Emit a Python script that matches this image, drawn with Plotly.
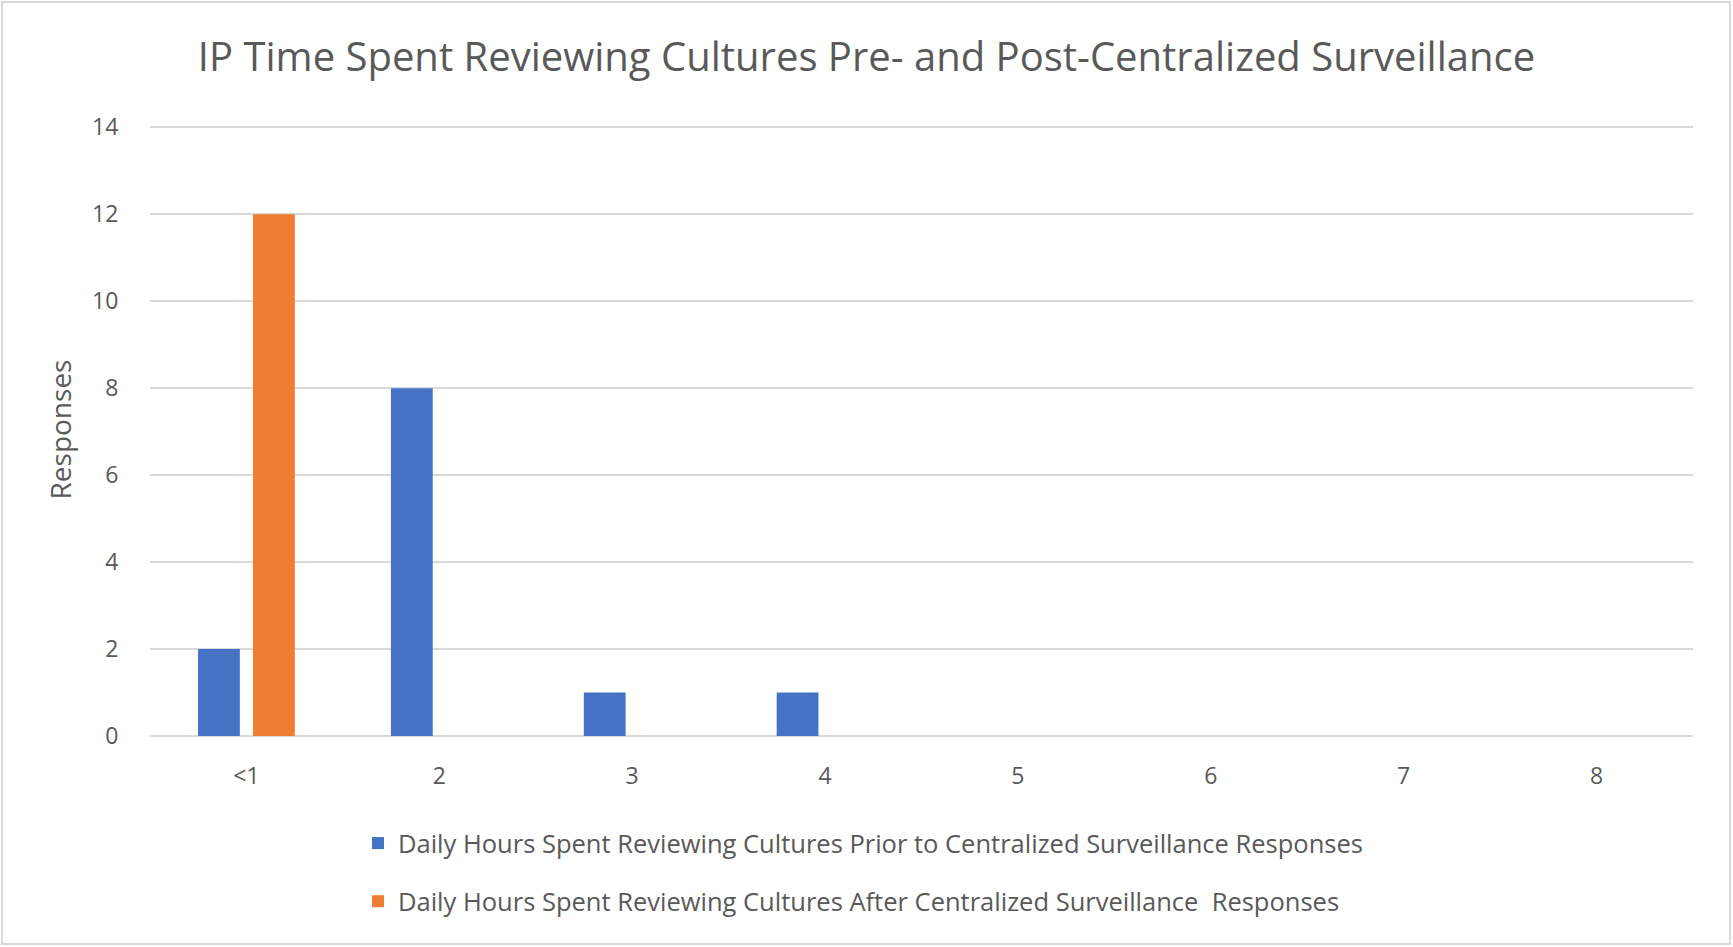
import plotly.graph_objects as go

# Survey data: daily hours spent reviewing cultures, before and after centralized surveillance
hours = ["<1", "2", "3", "4", "5", "6", "7", "8"]
prior_responses = [2, 8, 1, 1, 0, 0, 0, 0]
after_responses = [12, 0, 0, 0, 0, 0, 0, 0]

prior_name = "Daily Hours Spent Reviewing Cultures Prior to Centralized Surveillance Responses"
after_name = "Daily Hours Spent Reviewing Cultures After Centralized Surveillance  Responses"
chart_title = "IP Time Spent Reviewing Cultures Pre- and Post-Centralized Surveillance"

W, H = 1733, 947
L, R, T, B = 150, 40, 123, 211
TEXT = "#595959"
GRID = "#d9d9d9"
FONT = "Open Sans"

fig = go.Figure()
fig.add_trace(go.Bar(x=hours, y=prior_responses, name=prior_name,
                     marker=dict(color="#4472C4", line=dict(width=0)),
                     legendgroup="prior"))
fig.add_trace(go.Bar(x=hours, y=after_responses, name=after_name,
                     marker=dict(color="#ED7D31", line=dict(width=0)),
                     legendgroup="after"))

pw = W - L - R
ph = H - T - B

fig.update_layout(
    width=W, height=H,
    margin=dict(l=L, r=R, t=T, b=B, pad=0),
    paper_bgcolor="white", plot_bgcolor="white",
    barmode="group", bargap=0.43, bargroupgap=0.24,
    font=dict(family=FONT, color=TEXT, size=22),
    title=dict(text=chart_title, x=0.5, xanchor="center", y=1 - 57 / H, yanchor="middle",
               font=dict(family=FONT, size=40, color=TEXT)),
    xaxis=dict(type="category", showgrid=False, zeroline=False, showline=False,
               ticks="outside", ticklen=19, tickcolor="rgba(0,0,0,0)",
               tickfont=dict(size=23, color=TEXT)),
    yaxis=dict(range=[0, 14.1], tickvals=[0, 2, 4, 6, 8, 10, 12, 14],
               showgrid=True, gridcolor=GRID, gridwidth=1.5,
               zeroline=True, zerolinecolor=GRID, zerolinewidth=1.5, showline=False,
               ticks="outside", ticklen=26, tickcolor="rgba(0,0,0,0)",
               tickfont=dict(size=23, color=TEXT),
               title=dict(text="Responses", standoff=12, font=dict(size=28, color=TEXT))),
    legend=dict(orientation="v", x=(358 - L) / pw, xanchor="left",
                y=-(820 - T - ph) / ph, yanchor="top",
                font=dict(size=25.5, color=TEXT), tracegroupgap=22,
                bgcolor="rgba(0,0,0,0)", itemwidth=30),
    showlegend=True,
)

# Light frame around the whole chart area
fig.add_shape(type="rect", xref="paper", yref="paper",
              x0=(2 - L) / pw, x1=(W - 3 - L) / pw,
              y0=-(H - 3 - T - ph) / ph, y1=1 + (T - 2) / ph,
              line=dict(color="#d9d9d9", width=2), fillcolor="rgba(0,0,0,0)", layer="below")

fig.write_html("out.html")
